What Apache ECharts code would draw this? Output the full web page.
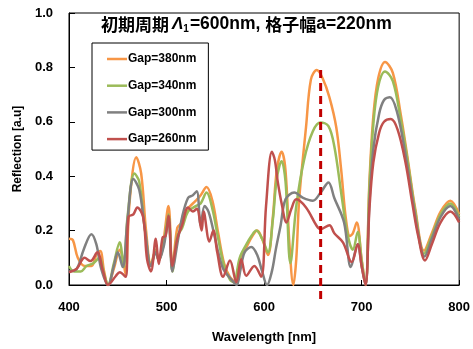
<!DOCTYPE html>
<html>
<head>
<meta charset="utf-8">
<script src="https://cdn.jsdelivr.net/npm/echarts@6/dist/echarts.min.js"></script>
<style>
  html, body { margin: 0; padding: 0; background: #fff; }
  #chart { width: 473px; height: 349px; }
</style>
</head>
<body>
<div id="chart"></div>
<script>
// wavelength [nm] / reflection pairs
var wl380 = [400,404,409,416,423,428,432,436,440,446,452,455,458,462,469,474,479,484,489,492,496,502,506,511,516,522,530,535,541,547,553,559,565,571,576,582,588,593,598,604,609,613,618,622,626,630,633,636,643,648,654,660,667,674,679,684,688,691,695,700,704,708,712,717,724,732,740,747,755,764,772,781,791,800];
var r380  = [.17,.165,.10,.07,.07,.11,.125,.05,0,.06,.13,.10,.04,.30,.47,.41,.20,.077,.13,.09,.14,.29,.06,.21,.23,.28,.31,.33,.36,.31,.19,.08,.03,.01,.10,.14,.18,.20,.17,.11,.25,.42,.49,.42,.15,0,.095,.315,.58,.755,.79,.76,.69,.58,.425,.24,.18,.19,.23,.095,0,.38,.62,.76,.82,.78,.63,.47,.28,.126,.19,.27,.31,.26];

var wl340 = [400,405,412,418,425,431,436,440,446,452,456,460,467,472,478,484,489,492,497,502,506,511,516,522,530,535,541,547,553,559,565,569,575,582,587,592,598,604,609,613,618,622,627,633,641,650,658,666,672,679,684,688,691,696,700,704,708,712,717,724,732,740,747,755,764,772,781,791,800];
var r340  = [.07,.05,.05,.07,.08,.10,.04,0,.08,.157,.066,.25,.41,.38,.20,.07,.13,.09,.15,.26,.05,.18,.21,.27,.29,.30,.34,.28,.17,.07,.02,.01,.10,.15,.18,.20,.17,.12,.24,.39,.455,.38,.08,.29,.46,.565,.597,.584,.51,.34,.217,.15,.13,.195,.09,0,.36,.59,.73,.785,.75,.61,.46,.27,.115,.18,.26,.30,.25];

var wl300 = [400,408,415,423,428,433,440,446,450,455,460,466,472,478,484,489,492,497,502,506,511,516,522,527,531,535,539,543,548,553,558,564,569,572,576,580,587,593,598,603,608,612,617,622,631,640,650,658,666,672,682,689,696,700,704,708,712,718,723,729,736,744,752,758,764.5,772,781,791,800];
var r300  = [.05,.06,.13,.187,.15,.06,0,.07,.12,.066,.24,.39,.35,.20,.07,.12,.09,.14,.24,.05,.15,.25,.32,.33,.345,.22,.29,.27,.20,.12,.06,.03,.01,0,.06,.12,.14,.11,.05,0,.05,.13,.22,.315,.34,.32,.31,.34,.377,.32,.23,.066,.15,.07,0,.30,.50,.63,.68,.69,.64,.50,.32,.19,.105,.17,.25,.29,.24];

var wl260 = [400,408,416,422,429,435,440,448,452,458,461,466,470,476,480,484,489,492,496,499,502,506,511,516,522,527,531,536,538,544,548,552,558,565,571.5,576.6,581.7,590,597,602,608,611,614,618,623,628,633,643,654,658,667,672,681,688,690,696,700,704,708,712,718,723,730,737,745,752,758,765,772,781,791,800];
var r260  = [.047,.06,.10,.088,.12,.05,0,.033,.047,.03,.25,.26,.285,.25,.095,.05,.17,.077,.175,.18,.255,.07,.17,.22,.285,.27,.28,.20,.27,.16,.20,.12,.03,.09,.01,.095,.034,.07,.03,.29,.49,.46,.38,.30,.23,.28,.315,.285,.217,.205,.22,.19,.156,.09,.085,.15,.07,0,.28,.45,.56,.60,.61,.57,.45,.30,.18,.09,.15,.23,.27,.23];

var names = ['Gap=380nm', 'Gap=340nm', 'Gap=300nm', 'Gap=260nm'];
var colors = ['#F79646', '#9BBB59', '#808080', '#C0504D'];
var markX = [658, 658];
var markY = [0.79, -0.07];

function zip (xs, ys) {
  return xs.map(function (x, i) { return [x, ys[i]]; });
}

var chart = echarts.init(document.getElementById('chart'));
var allData = [zip(wl380, r380), zip(wl340, r340), zip(wl300, r300), zip(wl260, r260)];

var series = allData.map(function (d, i) {
  return {
    name: names[i],
    type: 'line',
    data: d,
    symbol: 'none',
    smooth: 0.35,
    lineStyle: { width: 2.5, color: colors[i] },
    itemStyle: { color: colors[i] }
  };
});
series.push({
  name: 'mark',
  type: 'line',
  data: zip(markX, markY),
  symbol: 'none',
  clip: false,
  z: 5,
  lineStyle: { width: 3, color: '#C00000', type: [8, 5] }
});

var option = {
  animation: false,
  backgroundColor: '#fff',
  title: {
    text: '{c|初期周期}{g|Λ}{s|1}{n|=600nm, }{c|格子幅}{n|a=220nm}',
    left: 96,
    top: 10,
    textStyle: {
      rich: {
        c: { fontFamily: 'Noto Sans CJK JP', fontWeight: 'bold', fontSize: 17, color: '#000' },
        g: { fontFamily: 'Liberation Sans', fontStyle: 'italic', fontSize: 17, color: '#000', padding: [0, 0, 0, 3] },
        s: { fontFamily: 'Liberation Sans', fontSize: 10, color: '#000', padding: [9, 1, 0, 0] },
        n: { fontFamily: 'Liberation Sans', fontSize: 17.5, color: '#000' }
      }
    }
  },
  legend: {
    data: names.map(function (n) { return { name: n, icon: 'rect' }; }),
    orient: 'vertical',
    left: 92,
    top: 43,
    width: 116,
    padding: [10, 12, 5, 15],
    itemGap: 14.7,
    itemWidth: 20,
    itemHeight: 2.5,
    backgroundColor: '#fff',
    borderColor: '#000',
    borderWidth: 1,
    textStyle: { fontFamily: 'Liberation Sans', fontWeight: 'bold', fontSize: 12, color: '#000', padding: [0, 0, 0, -4] }
  },
  grid: {
    left: 69,
    right: 13,
    top: 13,
    bottom: 63,
    show: true,
    borderColor: '#000',
    borderWidth: 1
  },
  xAxis: {
    type: 'value',
    min: 400,
    max: 800,
    interval: 100,
    name: 'Wavelength [nm]',
    nameLocation: 'middle',
    nameGap: 46,
    nameTextStyle: { fontFamily: 'Liberation Sans', fontWeight: 'bold', fontSize: 13, color: '#000' },
    splitLine: { show: false },
    axisLine: { lineStyle: { color: '#000', width: 1 } },
    axisTick: { inside: true, length: 5, lineStyle: { color: '#000' } },
    axisLabel: { margin: 16, fontFamily: 'Liberation Sans', fontWeight: 'bold', fontSize: 13, color: '#000' }
  },
  yAxis: {
    type: 'value',
    min: 0,
    max: 1,
    interval: 0.2,
    name: 'Reflection [a.u]',
    nameLocation: 'middle',
    nameGap: 45,
    nameTextStyle: { fontFamily: 'Liberation Sans', fontWeight: 'bold', fontSize: 12, color: '#000' },
    splitLine: { show: false },
    axisLine: { show: true, lineStyle: { color: '#000', width: 1 } },
    axisTick: { show: true, inside: true, length: 6, lineStyle: { color: '#000' } },
    axisLabel: {
      margin: 16,
      fontFamily: 'Liberation Sans',
      fontWeight: 'bold',
      fontSize: 13,
      color: '#000',
      formatter: function (v) { return v.toFixed(1); }
    }
  },
  series: series
};
chart.setOption(option);
</script>
</body>
</html>
